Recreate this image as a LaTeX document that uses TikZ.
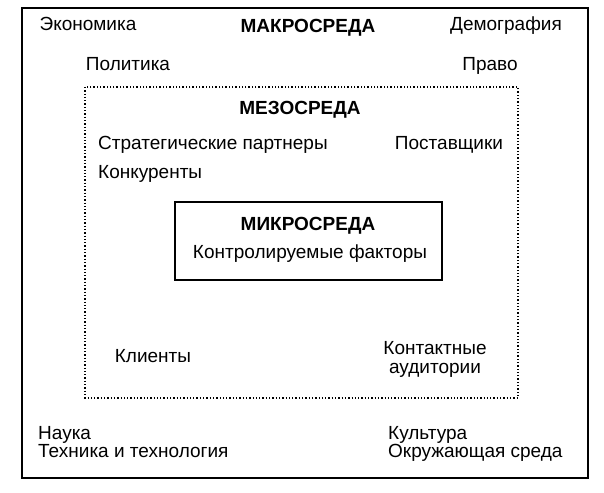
\documentclass[tikz,border=0pt]{standalone}
\usepackage{fontspec}
\setmainfont{Liberation Sans}
\begin{document}
\begin{tikzpicture}[x=1pt,y=-1pt,
  lbl/.style={font=\fontsize{19}{21}\selectfont,inner sep=0pt,text height=0.72em,text depth=0.2em},
  ttl/.style={lbl,font=\fontsize{19}{21}\selectfont\bfseries}]
\useasboundingbox (0,0) rectangle (604,492);
\draw[line width=1.3pt] (22,8) rectangle (588,478);
\draw[line width=1.3pt,dotted] (85,87) rectangle (518,398);
\draw[line width=1.2pt] (175,202) rectangle (442,280);
\node[lbl] (ek) at (88,28) {Экономика};
\node[ttl] (mak) at (308,30) {МАКРОСРЕДА};
\node[lbl] (dem) at (506,28) {Демография};
\node[lbl] (pol) at (128,68) {Политика};
\node[lbl] (pr) at (490,68) {Право};
\node[ttl] (mez) at (300,112) {МЕЗОСРЕДА};
\node[lbl,anchor=west] (str) at (98,147) {Стратегические партнеры};
\node[lbl] (pos) at (449,147) {Поставщики};
\node[lbl,anchor=west] (kon) at (98,176) {Конкуренты};
\node[ttl] (mik) at (308,228) {МИКРОСРЕДА};
\node[lbl] (kf) at (310,256) {Контролируемые факторы};
\node[lbl] (kl) at (153,360) {Клиенты};
\node[inner sep=0pt,align=center,font=\fontsize{19}{19}\selectfont] (ka) at (435,359) {Контактные\\аудитории};
\node[lbl,anchor=west] (na) at (38,437) {Наука};
\node[lbl,anchor=west] (te) at (38,455) {Техника и технология};
\node[lbl,anchor=west] (ku) at (388,437) {Культура};
\node[lbl,anchor=west] (ok) at (388,455) {Окружающая среда};
\end{tikzpicture}
\end{document}
